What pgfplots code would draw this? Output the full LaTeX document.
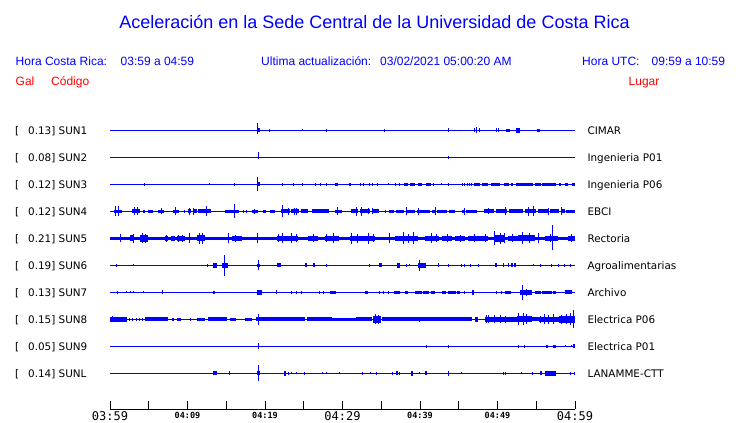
\documentclass[border=0pt]{standalone}
\usepackage{fontspec}
\setmainfont{Liberation Sans}
\newfontfamily\dvs{DejaVu Sans}
\newfontfamily\dvsm{DejaVu Sans Mono}
\usepackage{pgfplots}
\usepackage{pgfplotstable}
\pgfplotsset{compat=1.18}
\newcommand\tlB[1]{{\fontsize{12}{13}\selectfont\dvsm #1}}
\newcommand\tlS[1]{\raisebox{2pt}{\fontsize{8.5}{9}\selectfont\dvsm\bfseries #1}}
% ---------- blocks: t1 t2 halfheight(px) ; spikes: t up down (px)
\pgfplotstableread{
t1 t2 h
19.0 19.4 2
43.6 43.8 1.5
51.1 51.5 1.5
52.45 52.95 2.3
55.1 55.5 1.5
}\bkA
\pgfplotstableread{
t p m
19.0 7 4
20.6 1.5 1.5
24.9 1 1
27.9 1.5 1.5
35.4 1.5 1.5
43.7 2 2
47.0 2 2
47.35 3 3
47.7 2 2
49.9 2 2
50.15 2 2
51.6 1.5 1.5
}\spA
\pgfplotstableread{
t1 t2 h
19.05 19.25 1
}\bkB
\pgfplotstableread{
t p m
19.1 5 2
40.9 0 1
43.7 1.5 1.5
}\spB
\pgfplotstableread{
t1 t2 h
19.0 19.4 2
29.0 29.4 1.5
30.8 31.1 1.5
37.9 38.4 1.5
38.7 39.4 1.5
39.8 40.3 1.5
40.8 41.4 1.5
47.0 47.7 1.5
48.0 48.8 1.5
49.2 50.3 1.5
50.8 51.5 1.5
51.7 52.0 1.5
52.4 54.6 1.5
54.9 55.6 1.5
55.8 57.6 1.5
58.0 58.2 1.5
58.7 59.1 1.5
59.6 60.0 1.5
}\bkC
\pgfplotstableread{
t p m
4.5 1.5 1.5
12.9 1 1
13.8 0 1
16.0 1.5 1.5
19.0 7 7
20.1 0 1
22.2 1.5 1.5
23.7 1.5 1.5
24.9 1.5 1.5
26.5 1.5 1.5
27.2 1.5 1.5
28.0 1.5 1.5
32.3 1.5 1.5
32.7 1.5 1.5
33.5 1.5 1.5
33.9 1.5 1.5
34.5 1.5 1.5
35.9 1 1
36.8 1.5 1.5
37.3 1.5 1.5
41.7 1.5 1.5
42.8 1 1
43.7 1.5 1.5
45.5 1.5 1.5
45.8 1.5 1.5
46.1 1.5 1.5
46.4 1.5 1.5
46.6 1.5 1.5
}\spC
\pgfplotstableread{
t1 t2 h
0.5 1.5 1.8
2.9 3.9 2
4.3 4.5 1.5
4.9 5.5 1.7
6.2 7.0 1.7
8.1 8.9 1.8
9.5 9.6 1.5
10.0 10.5 2
10.7 11.2 2
11.4 13.0 2
14.8 16.6 1.8
18.3 19.1 1.5
19.8 20.1 1.2
20.6 21.3 1.7
22.1 23.2 2
23.4 24.4 2
24.6 25.6 2
26.0 28.2 2
29.0 29.9 1.7
31.1 32.0 2
32.2 33.6 2
33.8 34.7 2
35.5 35.6 1.5
36.0 36.6 1.8
36.9 38.0 1.8
38.2 39.4 1.8
39.6 41.3 1.8
41.5 42.0 1.8
42.2 43.5 1.8
43.7 44.5 1.8
45.4 45.8 1.8
46.0 47.3 1.8
48.2 49.5 2
49.8 51.2 2
51.5 53.3 2
53.5 55.0 2
55.2 56.5 2
56.8 58.0 2
58.2 58.7 2
58.9 60.0 1.8
}\bkD
\pgfplotstableread{
t p m
0.7 5 5
1.1 5 5
3.2 4 4
3.6 4 4
6.6 3 3
8.5 4 4
10.3 3.5 3.5
10.8 3.5 3.5
12.4 5 5
16.0 7 6.3
17.2 1.5 1.5
17.6 1.5 1.5
18.6 2.5 2.5
22.2 6 6
23.0 3.5 3.5
23.8 3.5 3.5
24.1 3.5 3.5
29.4 4 4
31.8 4.5 4.5
32.5 4.5 4.5
33.3 3 3
33.9 3 3
38.3 4 4
39.8 3.5 3.5
42.0 4 4
45.7 3.5 3.5
48.8 3 3
51.0 4 4
54.0 4.5 4.5
54.6 5 5
56.6 3.5 3.5
58.3 4 4
}\spD
\pgfplotstableread{
t1 t2 h
0 60 1.6
2.6 3.0 3
3.9 4.9 3.2
7.1 7.5 2.2
7.9 8.4 2.2
8.7 9.7 2.2
11.2 12.3 3
15.7 17.0 2.2
21.5 24.3 2.5
25.6 26.9 2.3
27.7 29.5 2.3
31.0 34.2 2.7
36.8 39.8 2.7
40.6 42.4 2.5
42.8 44.1 2.3
44.5 45.8 2.3
46.2 48.8 2.3
49.5 51.0 3.3
51.4 52.7 2.5
52.7 54.8 3
56.1 57.8 2.3
59.1 60.0 2.5
}\bkE
\pgfplotstableread{
t p m
1.4 4 4
3.0 4.5 4.5
4.2 5 5
4.6 4.5 4.5
7.3 3.5 3.5
8.9 3.5 3.5
9.4 3.5 3.5
10.3 5 5
11.6 5.3 5.3
11.9 5.3 5.3
15.3 5 5
16.2 3.5 3.5
19.0 5 5
21.8 4 4
22.2 5 5
23.4 5 5
24.0 4 4
26.2 4 4
27.9 4 4
28.9 5 5
31.2 5.5 5.5
32.0 4.5 4.5
33.3 5.5 5.5
34.0 4 4
36.1 5 5
37.9 6 6
38.5 4.5 4.5
39.2 6 6
41.5 5 5
42.1 4 4
43.5 4 4
45.2 3.5 3.5
47.0 4 4
48.4 4 4
49.6 7 7
50.4 5.5 5.5
50.9 5 5
52.0 4 4
53.2 6 6
54.1 5 5
55.3 5 5
56.8 4 4
57.1 13 12
59.5 4 4
}\spE
\pgfplotstableread{
t1 t2 h
13.3 13.8 2.3
14.5 15.2 2.5
19.0 19.3 1.8
21.5 22.0 2
25.2 25.4 2
26.2 26.4 2
34.7 35.1 2
37.0 37.4 2.5
39.8 40.8 2.3
49.7 50.0 2
51.3 51.5 2
51.8 52.0 2
52.1 52.4 2
}\bkF
\pgfplotstableread{
t p m
0.9 1.5 1.5
3.0 1 1
12.6 1.5 1.5
14.75 10 10.5
19.1 5 5
28.0 1.5 1.5
33.5 1.5 1.5
38.2 1.5 1.5
38.6 1 1
40.0 5.5 5.5
40.7 2 2
42.4 2 2
43.7 1.5 1.5
45.4 1.5 1.5
45.8 1.5 1.5
46.5 1.5 1.5
47.6 1.5 1.5
50.8 2 2
54.6 1 1
55.5 1.5 1.5
57.0 1.5 1.5
57.9 1.5 1.5
58.7 1.5 1.5
59.4 1.5 1.5
}\spF
\pgfplotstableread{
t1 t2 h
6.7 6.9 2
13.3 13.5 1.5
19.0 19.6 2.5
28.4 29.2 1.5
32.9 33.3 1.5
36.6 37.4 1.5
38.1 38.5 1.5
39.4 40.2 1.5
40.4 41.2 1.5
41.4 41.9 1.5
42.8 43.4 1.5
43.6 44.6 1.5
44.8 45.2 1.5
46.7 47.0 2.5
51.0 51.8 1.5
52.9 54.4 2.3
54.8 55.6 1.5
55.8 57.0 1.5
57.2 57.6 1.5
58.7 59.6 2
}\bkG
\pgfplotstableread{
t p m
1.0 1.5 1.5
2.15 1 1
2.6 1 1
3.0 1 1
4.3 1 1
21.5 2 2
23.4 1.5 1.5
24.1 1.5 1.5
24.7 1.5 1.5
27.0 1.5 1.5
27.5 1.5 1.5
34.8 1.5 1.5
35.3 1.5 1.5
35.9 1.5 1.5
45.8 1.5 1.5
49.9 1.5 1.5
50.5 1.5 1.5
53.2 7.7 7.7
53.7 3.5 3.5
}\spG
\pgfplotstableread{
t1 t2 h
0 2.2 2.3
2.5 2.6 1.5
2.9 3.0 1.5
3.3 3.4 1.5
3.7 3.8 1.5
4.1 4.2 1.5
4.5 7.5 2
8.0 8.3 1.5
8.6 9.2 1.5
10.3 10.4 1.5
11.2 12.3 1.5
12.7 15.1 2
15.5 16.3 1.5
17.4 18.3 1.5
18.9 25.2 2
25.4 28.6 2
28.6 31.8 1.5
31.8 33.8 2
34.0 35.0 3.2
35.1 46.7 2
47.1 47.5 2.7
48.4 51.4 2.7
51.4 52.5 2.2
52.5 54.4 3
54.4 55.3 2
55.3 58.0 2.7
58.0 60.0 3.3
}\bkH
\pgfplotstableread{
t p m
0.3 3 3
19.1 5.5 5.5
34.2 5 5
34.6 4.5 4.5
40.0 2.5 2.5
48.6 4 4
48.9 4 4
49.6 4 4
50.4 4 4
51.0 3.5 3.5
52.7 6 6
53.3 6 6
53.8 5 5
55.6 3.5 3.5
56.1 5 5
56.6 4.5 4.5
57.2 5 5
58.3 4.5 4.5
58.9 5 5
59.4 6 6
59.8 9 8.3
}\spH
\pgfplotstableread{
t1 t2 h
43.6 43.8 1.5
56.2 56.5 1.5
57.2 57.5 1.2
59.8 60.0 2
}\bkI
\pgfplotstableread{
t p m
19.1 3.3 3
34.0 0 1
39.9 0 1
40.8 1.5 1.5
52.7 1.5 1.5
53.5 1.5 1.5
58.8 1 1
59.6 1 1
}\spI
\pgfplotstableread{
t1 t2 h
13.3 13.8 2
19.0 19.3 2
22.4 22.7 2.5
36.9 37.1 2
38.8 39.1 2.5
40.6 40.9 2
55.5 55.8 2
56.1 57.6 2.5
}\bkJ
\pgfplotstableread{
t p m
15.4 2 2
19.1 8.3 7.7
20.4 0 1
23.0 1.5 1.5
23.4 1 1
24.0 1 1
25.1 1.5 1.5
27.4 1 1
27.9 1 1
29.6 1 1
30.6 0 1
32.6 1.5 1.5
33.6 1 1
34.4 1.5 1.5
36.4 1.5 1.5
37.3 1.5 1.5
39.9 1 1
43.7 2.5 2.5
45.4 1 1
46.4 0 1
50.75 1.5 1.5
51.0 1.5 1.5
53.1 1 1
54.5 1.5 1.5
59.4 1.5 1.5
60.0 1.5 1.5
}\spJ
% one trace: baseline, blocks, spikes
\newcommand\trace[3]{%
  \addplot[blue, line width=1pt] coordinates {(0,#1) (60,#1)};
  \addplot[blue, point meta=\thisrow{h},
    quiver={u=\thisrow{t2}-\thisrow{t1}, v=0,
      every arrow/.append style={line width=0.02pt*\pgfplotspointmetatransformed}}]
    table[x=t1, y expr=#1] {#2};
  \addplot[blue, line width=1pt,
    quiver={u=0, v=\thisrow{p}+\thisrow{m}}]
    table[x=t, y expr=#1-\thisrow{m}] {#3};
}
\begin{document}
\begin{tikzpicture}
\fill[white] (0,0) rectangle (740pt,-423pt);
\useasboundingbox (0,0) rectangle (740pt,-423pt);
% header
\node[anchor=base, inner sep=0pt, text=blue, font=\fontsize{18}{20}\selectfont] at (374.5pt,-28.5pt) {Aceleración en la Sede Central de la Universidad de Costa Rica};
\begin{scope}[every node/.style={anchor=base west, inner sep=0pt, font=\fontsize{12}{14}\selectfont}]
\node[text=blue] at (15.5pt,-65.5pt) {Hora Costa Rica:};
\node[text=blue] at (120.5pt,-65.5pt) {03:59 a 04:59};
\node[text=blue] at (261pt,-65.5pt) {Ultima actualización:};
\node[text=blue] at (380pt,-65.5pt) {03/02/2021 05:00:20 AM};
\node[text=blue] at (582pt,-65.5pt) {Hora UTC:};
\node[text=blue] at (651.5pt,-65.5pt) {09:59 a 10:59};
\node[text=red] at (15.5pt,-85.5pt) {Gal};
\node[text=red] at (51pt,-85.5pt) {Código};
\node[text=red] at (628.5pt,-85.5pt) {Lugar};
\end{scope}
% station labels
\begin{scope}[every node/.style={anchor=base west, inner sep=0pt, font=\fontsize{10.4}{12}\dvs}]
\foreach \y/\g/\c/\l in {130.3/0.13/SUN1/CIMAR, 157.3/0.08/SUN2/Ingenieria P01, 184.3/0.12/SUN3/Ingenieria P06, 211.3/0.12/SUN4/EBCI, 238.3/0.21/SUN5/Rectoria, 265.3/0.19/SUN6/Agroalimentarias, 292.3/0.13/SUN7/Archivo, 319.3/0.15/SUN8/Electrica P06, 346.3/0.05/SUN9/Electrica P01, 373.3/0.14/SUNL/LANAMME-CTT}{
  \node at (15pt,-\y pt-3.8pt) {[};
  \node at (28pt,-\y pt-3.8pt) {\g] \c};
  \node at (587.3pt,-\y pt-3.8pt) {\l};
}
\end{scope}
\begin{axis}[
  at={(110pt,-409pt)}, anchor=south west,
  scale only axis, width=465pt, height=294pt,
  xmin=0, xmax=60, ymin=-409, ymax=-115,
  axis x line=bottom, axis y line=none,
  x axis line style={-, black, line width=0.8pt},
  xtick={0,5,...,60}, ytick=\empty,
  xtick align=inside, major tick length=8pt,
  tick style={black, line width=0.8pt},
  xticklabels={{\tlB{03:59}},{},{\tlS{04:09}},{},{\tlS{04:19}},{},{\tlB{04:29}},{},{\tlS{04:39}},{},{\tlS{04:49}},{},{\tlB{04:59}}},
  xticklabel style={anchor=base, inner sep=0pt, yshift=-11pt},
  clip=false,
  point meta min=0, point meta max=10,
]
\trace{-130.3}{\bkA}{\spA}
\trace{-157.3}{\bkB}{\spB}
\trace{-184.3}{\bkC}{\spC}
\trace{-211.3}{\bkD}{\spD}
\trace{-238.3}{\bkE}{\spE}
\trace{-265.3}{\bkF}{\spF}
\trace{-292.3}{\bkG}{\spG}
\trace{-319.3}{\bkH}{\spH}
\trace{-346.3}{\bkI}{\spI}
\trace{-373.3}{\bkJ}{\spJ}
\end{axis}
\end{tikzpicture}
\end{document}
